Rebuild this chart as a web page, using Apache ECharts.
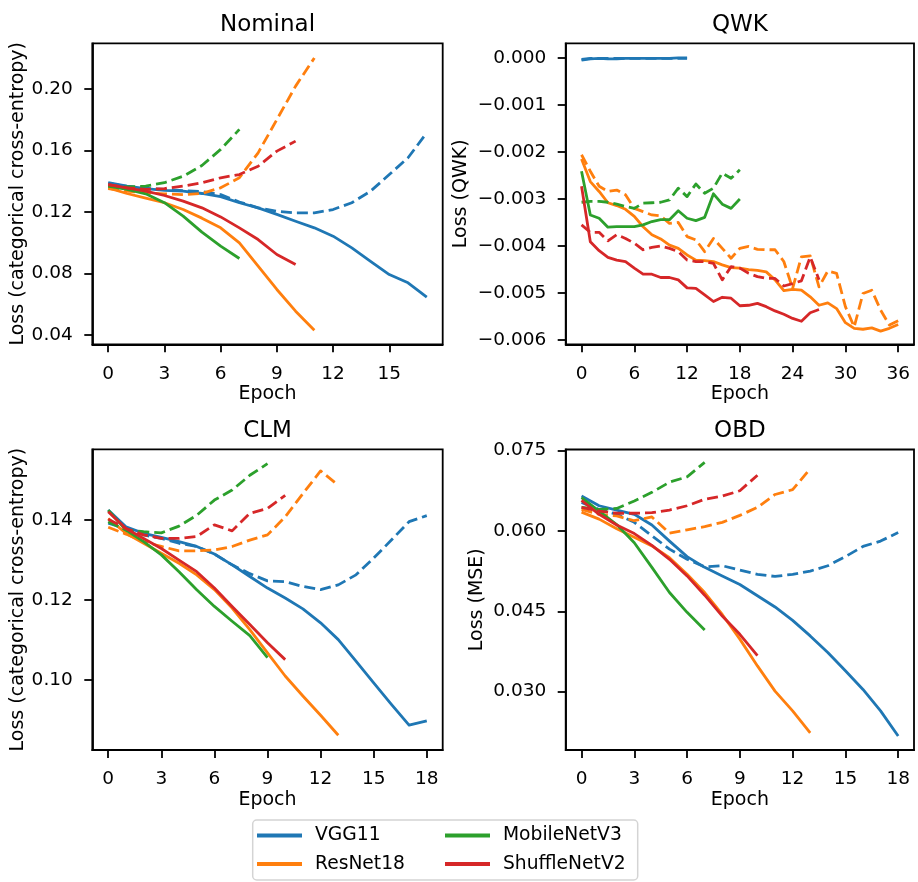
<!DOCTYPE html>
<html>
<head>
<meta charset="utf-8">
<script src="https://cdn.jsdelivr.net/npm/echarts@6/dist/echarts.min.js"></script>
<style>
html, body { margin: 0; padding: 0; background: #ffffff; }
#chart { width: 918px; height: 882px; }
</style>
</head>
<body>
<div id="chart"></div>
<script>
// ---------------- data ----------------
const models = ['VGG11', 'ResNet18', 'MobileNetV3', 'ShuffleNetV2'];
const panelTitles = ['Nominal', 'QWK', 'CLM', 'OBD'];
const yAxisTitles = ['Loss (categorical cross-entropy)', 'Loss (QWK)', 'Loss (categorical cross-entropy)', 'Loss (MSE)'];
const xAxisTitle = 'Epoch';

const xTicksNominal = [0, 3, 6, 9, 12, 15];
const xTicksQWK = [0, 6, 12, 18, 24, 30, 36];
const xTicksCLM = [0, 3, 6, 9, 12, 15, 18];
const xTicksOBD = [0, 3, 6, 9, 12, 15, 18];
const yTicksNominal = [0.04, 0.08, 0.12, 0.16, 0.20];
const yTicksQWK = [0.000, -0.001, -0.002, -0.003, -0.004, -0.005, -0.006];
const yTicksCLM = [0.10, 0.12, 0.14];
const yTicksOBD = [0.030, 0.045, 0.060, 0.075];

// Nominal (categorical cross-entropy): solid = train, dashed = validation
const nominalVGG11Train = [0.1390, 0.1368, 0.1352, 0.1340, 0.1335, 0.1320, 0.1300, 0.1260, 0.1227, 0.1184, 0.1140, 0.1097, 0.1043, 0.0967, 0.0880, 0.0794, 0.0740, 0.0647];
const nominalVGG11Val = [0.1385, 0.1366, 0.1354, 0.1346, 0.1339, 0.1333, 0.1313, 0.1265, 0.1227, 0.1205, 0.1194, 0.1194, 0.1216, 0.1260, 0.1335, 0.1443, 0.1552, 0.1714];
const nominalResNet18Train = [0.1357, 0.1320, 0.1290, 0.1260, 0.1216, 0.1160, 0.1097, 0.1000, 0.0848, 0.0697, 0.0556, 0.0432];
const nominalResNet18Val = [0.1352, 0.1335, 0.1324, 0.1318, 0.1313, 0.1320, 0.1357, 0.1422, 0.1584, 0.1800, 0.2017, 0.2200];
const nominalMobileNetV3Train = [0.1368, 0.1346, 0.1318, 0.1260, 0.1173, 0.1069, 0.0978, 0.0898];
const nominalMobileNetV3Val = [0.1368, 0.1363, 0.1368, 0.1390, 0.1432, 0.1502, 0.1606, 0.1736];
const nominalShuffleNetV2Train = [0.1378, 0.1357, 0.1335, 0.1307, 0.1270, 0.1227, 0.1168, 0.1097, 0.1021, 0.0924, 0.0859];
const nominalShuffleNetV2Val = [0.1378, 0.1357, 0.1346, 0.1352, 0.1368, 0.1390, 0.1422, 0.1443, 0.1497, 0.1595, 0.1660];

// QWK
const qwkVGG11Train = [-0.00005, -0.00002, -0.00001, -0.00002, -0.00002, -0.00001, -0.00001, -0.00001, -0.00001, -0.00001, -0.00001, 0.00000, 0.00000];
const qwkVGG11Val = [-0.00003, -0.00001, -0.00001, -0.00001, -0.00001, -0.00001, -0.00001, -0.00001, -0.00001, -0.00001, -0.00001, -0.00001, -0.00001];
const qwkResNet18Train = [-0.00215, -0.00263, -0.00284, -0.00308, -0.00314, -0.00322, -0.00337, -0.00359, -0.00376, -0.00385, -0.00398, -0.00405, -0.00419, -0.00430, -0.00431, -0.00433, -0.00440, -0.00446, -0.00447, -0.00450, -0.00452, -0.00455, -0.00472, -0.00495, -0.00492, -0.00494, -0.00508, -0.00526, -0.00521, -0.00533, -0.00563, -0.00575, -0.00577, -0.00574, -0.00581, -0.00575, -0.00567];
const qwkResNet18Val = [-0.00206, -0.00241, -0.00273, -0.00284, -0.00281, -0.00291, -0.00320, -0.00327, -0.00334, -0.00336, -0.00352, -0.00350, -0.00380, -0.00387, -0.00412, -0.00384, -0.00405, -0.00426, -0.00405, -0.00401, -0.00407, -0.00408, -0.00408, -0.00433, -0.00490, -0.00423, -0.00421, -0.00487, -0.00453, -0.00458, -0.00529, -0.00572, -0.00501, -0.00494, -0.00536, -0.00568, -0.00559];
const qwkMobileNetV3Train = [-0.00241, -0.00334, -0.00341, -0.00360, -0.00359, -0.00359, -0.00359, -0.00355, -0.00348, -0.00344, -0.00344, -0.00325, -0.00341, -0.00346, -0.00339, -0.00289, -0.00311, -0.00320, -0.00300];
const qwkMobileNetV3Val = [-0.00307, -0.00305, -0.00305, -0.00307, -0.00311, -0.00316, -0.00320, -0.00309, -0.00308, -0.00307, -0.00302, -0.00277, -0.00295, -0.00268, -0.00288, -0.00277, -0.00245, -0.00256, -0.00238];
const qwkShuffleNetV2Train = [-0.00273, -0.00391, -0.00410, -0.00424, -0.00430, -0.00433, -0.00447, -0.00460, -0.00460, -0.00467, -0.00467, -0.00472, -0.00489, -0.00490, -0.00504, -0.00518, -0.00509, -0.00511, -0.00527, -0.00526, -0.00522, -0.00529, -0.00538, -0.00545, -0.00554, -0.00560, -0.00542, -0.00535];
const qwkShuffleNetV2Val = [-0.00355, -0.00371, -0.00371, -0.00389, -0.00376, -0.00384, -0.00394, -0.00408, -0.00403, -0.00400, -0.00405, -0.00412, -0.00430, -0.00433, -0.00433, -0.00437, -0.00472, -0.00444, -0.00447, -0.00458, -0.00465, -0.00469, -0.00469, -0.00485, -0.00480, -0.00474, -0.00423, -0.00472];

// CLM
const clmVGG11Train = [0.1425, 0.1383, 0.1367, 0.1357, 0.1346, 0.1334, 0.1315, 0.1288, 0.1259, 0.1230, 0.1205, 0.1178, 0.1143, 0.1101, 0.1047, 0.0993, 0.0939, 0.0887, 0.0898];
const clmVGG11Val = [0.1392, 0.1379, 0.1363, 0.1354, 0.1342, 0.1334, 0.1315, 0.1288, 0.1266, 0.1248, 0.1246, 0.1234, 0.1226, 0.1238, 0.1263, 0.1305, 0.1350, 0.1396, 0.1411];
const clmResNet18Train = [0.1404, 0.1367, 0.1342, 0.1317, 0.1292, 0.1263, 0.1226, 0.1180, 0.1126, 0.1068, 0.1010, 0.0960, 0.0912, 0.0862];
const clmResNet18Val = [0.1382, 0.1365, 0.1346, 0.1334, 0.1323, 0.1323, 0.1325, 0.1334, 0.1350, 0.1363, 0.1408, 0.1466, 0.1523, 0.1487];
const clmMobileNetV3Train = [0.1425, 0.1375, 0.1346, 0.1313, 0.1271, 0.1226, 0.1184, 0.1147, 0.1111, 0.1056];
const clmMobileNetV3Val = [0.1396, 0.1375, 0.1371, 0.1368, 0.1385, 0.1412, 0.1450, 0.1475, 0.1512, 0.1541];
const clmShuffleNetV2Train = [0.1421, 0.1379, 0.1354, 0.1329, 0.1300, 0.1271, 0.1230, 0.1184, 0.1139, 0.1093, 0.1051];
const clmShuffleNetV2Val = [0.1402, 0.1379, 0.1363, 0.1354, 0.1354, 0.1359, 0.1388, 0.1373, 0.1417, 0.1429, 0.1462];

// OBD (MSE)
const obdVGG11Train = [0.0665, 0.0647, 0.0639, 0.0631, 0.0611, 0.0581, 0.0552, 0.0532, 0.0516, 0.0500, 0.0479, 0.0458, 0.0433, 0.0404, 0.0373, 0.0339, 0.0304, 0.0264, 0.0217];
const obdVGG11Val = [0.0653, 0.0640, 0.0631, 0.0616, 0.0591, 0.0566, 0.0547, 0.0533, 0.0535, 0.0527, 0.0519, 0.0515, 0.0519, 0.0525, 0.0535, 0.0552, 0.0571, 0.0581, 0.0597];
const obdResNet18Train = [0.0635, 0.0622, 0.0604, 0.0588, 0.0572, 0.0550, 0.0519, 0.0485, 0.0444, 0.0398, 0.0348, 0.0301, 0.0264, 0.0223];
const obdResNet18Val = [0.0640, 0.0631, 0.0628, 0.0619, 0.0626, 0.0596, 0.0602, 0.0608, 0.0616, 0.0629, 0.0644, 0.0668, 0.0677, 0.0716];
const obdMobileNetV3Train = [0.0662, 0.0637, 0.0612, 0.0578, 0.0532, 0.0485, 0.0448, 0.0415];
const obdMobileNetV3Val = [0.0644, 0.0640, 0.0642, 0.0656, 0.0672, 0.0691, 0.0701, 0.0728];
const obdShuffleNetV2Train = [0.0657, 0.0631, 0.0611, 0.0595, 0.0573, 0.0547, 0.0516, 0.0480, 0.0441, 0.0407, 0.0367];
const obdShuffleNetV2Val = [0.0644, 0.0637, 0.0633, 0.0633, 0.0634, 0.0639, 0.0647, 0.0659, 0.0665, 0.0675, 0.0704];

// ---------------- layout & style ----------------
const FONT = 'DejaVu Sans';
const colors = ['#1f77b4', '#ff7f0e', '#2ca02c', '#d62728'];
const gridRects = [
  { left: 92.3, top: 43.3, width: 350.4, height: 301 },
  { left: 565.7, top: 43.3, width: 348.3, height: 301 },
  { left: 92.3, top: 449.3, width: 350.4, height: 300.7 },
  { left: 565.7, top: 449.5, width: 348.3, height: 300.5 }
];
const xLimits = [[-0.85, 17.85], [-1.8, 37.8], [-0.9, 18.9], [-0.9, 18.9]];
const yLimits = [[0.0341, 0.2295], [-0.00609, 0.00031], [0.0825, 0.1577], [0.0191, 0.0752]];
const yDecimals = [2, 3, 2, 3];
const yNameGaps = [64.6, 95.6, 64.6, 79.6];

const panels = [
  { xTicks: xTicksNominal, yTicks: yTicksNominal, train: [nominalVGG11Train, nominalResNet18Train, nominalMobileNetV3Train, nominalShuffleNetV2Train], val: [nominalVGG11Val, nominalResNet18Val, nominalMobileNetV3Val, nominalShuffleNetV2Val] },
  { xTicks: xTicksQWK, yTicks: yTicksQWK, train: [qwkVGG11Train, qwkResNet18Train, qwkMobileNetV3Train, qwkShuffleNetV2Train], val: [qwkVGG11Val, qwkResNet18Val, qwkMobileNetV3Val, qwkShuffleNetV2Val] },
  { xTicks: xTicksCLM, yTicks: yTicksCLM, train: [clmVGG11Train, clmResNet18Train, clmMobileNetV3Train, clmShuffleNetV2Train], val: [clmVGG11Val, clmResNet18Val, clmMobileNetV3Val, clmShuffleNetV2Val] },
  { xTicks: xTicksOBD, yTicks: yTicksOBD, train: [obdVGG11Train, obdResNet18Train, obdMobileNetV3Train, obdShuffleNetV2Train], val: [obdVGG11Val, obdResNet18Val, obdMobileNetV3Val, obdShuffleNetV2Val] }
];

function fmt(v, d) {
  const s = Math.abs(v) < 1e-12 ? (0).toFixed(d) : v.toFixed(d);
  return s.replace('-', '\u2212');
}

const grid = [], xAxis = [], yAxis = [], series = [], title = [];
panels.forEach((p, i) => {
  const g = gridRects[i];
  grid.push(Object.assign({ show: true, borderColor: '#000', borderWidth: 1.8, backgroundColor: 'transparent', containLabel: false, outerBoundsMode: 'none' }, g));
  title.push({
    text: panelTitles[i],
    left: g.left + g.width / 2,
    top: g.top - 30,
    textAlign: 'center',
    padding: 0,
    textStyle: { fontFamily: FONT, fontSize: 23, fontWeight: 'normal', color: '#000' }
  });
  xAxis.push({
    type: 'value', gridIndex: i, min: xLimits[i][0], max: xLimits[i][1],
    name: xAxisTitle, nameLocation: 'middle', nameGap: 40.5,
    nameTextStyle: { fontFamily: FONT, fontSize: 19, color: '#000' },
    axisLine: { show: true, onZero: false, lineStyle: { color: '#000', width: 1.8 } },
    axisTick: { show: true, inside: false, length: 8, lineStyle: { color: '#000', width: 1.8 }, customValues: p.xTicks },
    axisLabel: { show: true, margin: 20, fontFamily: FONT, fontSize: 18.5, color: '#000', customValues: p.xTicks, hideOverlap: false, formatter: v => String(Math.round(v)) },
    splitLine: { show: false }
  });
  yAxis.push({
    type: 'value', gridIndex: i, min: yLimits[i][0], max: yLimits[i][1],
    name: yAxisTitles[i], nameLocation: 'middle', nameRotate: 90, nameGap: yNameGaps[i],
    nameTextStyle: { fontFamily: FONT, fontSize: 19, color: '#000' },
    axisLine: { show: true, onZero: false, lineStyle: { color: '#000', width: 1.8 } },
    axisTick: { show: true, inside: false, length: 8, lineStyle: { color: '#000', width: 1.8 }, customValues: p.yTicks },
    axisLabel: { show: true, margin: 19.5, fontFamily: FONT, fontSize: 18.5, color: '#000', customValues: p.yTicks, hideOverlap: false, formatter: v => fmt(v, yDecimals[i]) },
    splitLine: { show: false }
  });
  models.forEach((m, k) => {
    [['train', 'solid'], ['val', [11, 5]]].forEach(([key, dash]) => {
      series.push({
        type: 'line', name: m, xAxisIndex: i, yAxisIndex: i,
        data: p[key][k].map((v, e) => [e, v]),
        symbol: 'none', showSymbol: false, silent: true, animation: false,
        clip: true,
        itemStyle: { color: colors[k] },
        lineStyle: { color: colors[k], width: 2.8, type: dash, cap: 'butt', join: 'round' },
        z: 2 + k
      });
    });
  });
});

const legendCommon = {
  orient: 'vertical', top: 826, itemWidth: 45, itemHeight: 4, itemGap: 9.6,
  icon: 'rect', selectedMode: false, padding: 0,
  textStyle: { fontFamily: FONT, fontSize: 18.7, color: '#000', padding: [0, 0, 0, 8] }
};

const option = {
  backgroundColor: '#ffffff',
  animation: false,
  textStyle: { fontFamily: FONT },
  title,
  grid, xAxis, yAxis, series,
  legend: [
    Object.assign({ left: 257, data: [models[0], models[1]] }, legendCommon),
    Object.assign({ left: 445, data: [models[2], models[3]] }, legendCommon)
  ],
  graphic: [{
    type: 'rect', z: -1, silent: true,
    shape: { x: 252.7, y: 820, width: 385, height: 60, r: 4 },
    style: { fill: '#ffffff', stroke: '#d4d4d4', lineWidth: 1.5 }
  }]
};

const chart = echarts.init(document.getElementById('chart'), null, { renderer: 'canvas', width: 918, height: 882 });
chart.setOption(option);
</script>
</body>
</html>
